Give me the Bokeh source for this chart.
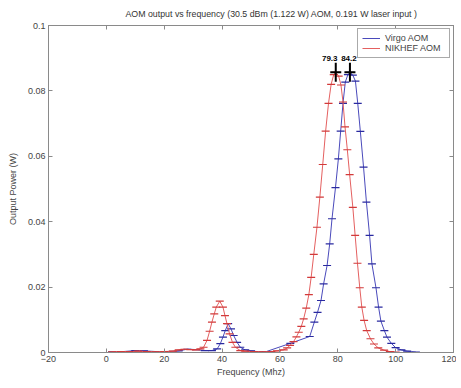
import math
from bokeh.plotting import figure
from bokeh.models import (LinearAxis, FixedTicker, CustomJSTickFormatter, Legend,
                          LegendItem, ColumnDataSource, Range1d)
from bokeh.embed import file_html
from bokeh.resources import INLINE
from bokeh.core.properties import value

# ---- data ----
nikhef_freq = [2, 5, 8, 11, 14, 17, 20, 23, 25, 27,
               29, 31, 32.5, 33.6, 34.8, 35.7, 36.5, 37.3, 38.0, 39.2,
               40.3, 41.0, 41.7, 42.6, 43.6, 44.6, 46.3, 48, 51, 54,
               57, 59, 61.3, 62.5, 63.5, 64.7, 65.7, 66.5, 67.4, 68.2,
               69.1, 70.0, 70.8, 71.7, 72.8, 73.8, 74.8, 75.8, 76.8, 77.7,
               78.6, 79.3, 80.3, 81.1, 81.8, 82.5, 83.3, 84.1, 85.2, 86.0,
               86.8, 87.6, 88.3, 89.1, 90.0, 91.3, 92.5, 94, 96, 98, 100]
nikhef_power = [0.0002, 0.0003, 0.0003, 0.0004, 0.0003, 0.0002, 0.0003, 0.0004, 0.0008, 0.0010,
                0.0009, 0.0008, 0.0011, 0.0016, 0.0037, 0.0065, 0.0093, 0.0118, 0.0139, 0.0157,
                0.0139, 0.0113, 0.0088, 0.0057, 0.0031, 0.0016, 0.0006, 0.0004, 0.0003, 0.0002,
                0.0003, 0.0005, 0.0008, 0.0014, 0.0022, 0.0033, 0.0048, 0.0062, 0.0080, 0.0103,
                0.0136, 0.0177, 0.0230, 0.0300, 0.0383, 0.0475, 0.0575, 0.0677, 0.0762, 0.0820,
                0.0850, 0.0857, 0.0845, 0.0818, 0.0766, 0.0690, 0.0620, 0.0544, 0.0444, 0.0358,
                0.0273, 0.0198, 0.0139, 0.0098, 0.0067, 0.0042, 0.0026, 0.0014, 0.0007, 0.0003, 0.0001]

virgo_freq = [2, 6, 10, 13, 17, 21, 25, 28, 31, 34,
              36.5, 38.3, 39.4, 40.3, 41.1, 42.1, 43.1, 44.0, 45.2, 46.3,
              48, 50, 53, 55, 63.6, 70.3, 71.9, 73.0, 74.2, 75.1,
              76.3, 77.2, 78.0, 79.2, 80.2, 81.0, 81.8, 82.6, 83.5, 84.3,
              85.2, 86.1, 86.9, 87.8, 88.9, 89.9, 91.0, 91.8, 93.2, 94.1,
              94.9, 96.1, 97.0, 98.5, 100, 102, 104, 107]
virgo_power = [0.0002, 0.0003, 0.0006, 0.0005, 0.0003, 0.0003, 0.0005, 0.0010, 0.0009, 0.0006,
               0.0006, 0.0011, 0.0027, 0.0047, 0.0067, 0.0088, 0.0072, 0.0052, 0.0031, 0.0016,
               0.0008, 0.0005, 0.0002, 0.0002, 0.0028, 0.0049, 0.0093, 0.0123, 0.0159, 0.0210,
               0.0266, 0.0332, 0.0409, 0.0504, 0.0592, 0.0677, 0.0762, 0.0827, 0.0850, 0.0857,
               0.0848, 0.0830, 0.0762, 0.0676, 0.0567, 0.0460, 0.0358, 0.0271, 0.0198, 0.0139,
               0.0096, 0.0067, 0.0047, 0.0028, 0.0015, 0.0008, 0.0004, 0.0001]

peak_freq = [79.3, 84.2]
peak_power = [0.0857, 0.0857]
peak_labels = ["79.3", "84.2"]

x_ticks = [-20, 0, 20, 40, 60, 80, 100, 120]
y_ticks = [0, 0.02, 0.04, 0.06, 0.08, 0.1]

title_text = "AOM output vs frequency (30.5 dBm (1.122 W) AOM, 0.191 W laser input )"

FONT = "Liberation Sans"
AXIS_COLOR = "#8a8a8a"
LABEL_COLOR = "#444444"
BLUE = "#4a4abb"
BLUE_M = "#2a2aa0"
RED = "#e46060"
RED_M = "#d23a3a"

p = figure(width=456, height=380, x_range=Range1d(-20, 120), y_range=Range1d(0, 0.1),
           output_backend="svg", toolbar_location=None,
           min_border_left=48, min_border_right=3, min_border_top=25, min_border_bottom=28)
p.background_fill_color = "white"
p.border_fill_color = "white"
p.outline_line_color = AXIS_COLOR
p.xgrid.visible = False
p.ygrid.visible = False

p.title.text = title_text
p.title.text_font = FONT
p.title.text_font_size = "8.8px"
p.title.text_font_style = "normal"
p.title.text_color = "#333333"
p.title.align = "left"
p.title.vertical_align = "top"
p.title.offset = 77
p.title.standoff = 10

fmt = CustomJSTickFormatter(code="return (Math.round(tick*100)/100).toString();")
blank_fmt = CustomJSTickFormatter(code="return '';")

def style_axis(ax, ticks, show_labels=True):
    ax.ticker = FixedTicker(ticks=ticks)
    ax.axis_line_color = AXIS_COLOR
    ax.major_tick_line_color = AXIS_COLOR
    ax.major_tick_in = 4
    ax.major_tick_out = 0
    ax.minor_tick_line_color = None
    ax.major_label_text_font = FONT
    ax.major_label_text_font_size = "9px"
    ax.major_label_text_color = LABEL_COLOR
    ax.axis_label_text_font = FONT
    ax.axis_label_text_font_size = "9px"
    ax.axis_label_text_font_style = "normal"
    ax.axis_label_text_color = LABEL_COLOR
    if not show_labels:
        ax.formatter = blank_fmt
        ax.major_label_standoff = 0

xa = p.xaxis[0]
ya = p.yaxis[0]
style_axis(xa, x_ticks)
style_axis(ya, y_ticks)
xa.axis_label = "Frequency (Mhz)"
ya.axis_label = "Output Power (W)"
xa.major_label_standoff = 3
xa.axis_label_standoff = 2
ya.major_label_standoff = 3
ya.axis_label_standoff = 7
ya.formatter = fmt

top = LinearAxis()
style_axis(top, x_ticks, show_labels=False)
p.add_layout(top, "above")
right = LinearAxis()
style_axis(right, y_ticks, show_labels=False)
p.add_layout(right, "right")

virgo_src = ColumnDataSource(dict(f=virgo_freq, pw=virgo_power))
nikhef_src = ColumnDataSource(dict(f=nikhef_freq, pw=nikhef_power))

bl = p.line("f", "pw", source=virgo_src, line_color=BLUE, line_width=1)
p.scatter("f", "pw", source=virgo_src, marker="dash", size=8, line_color=BLUE_M, line_width=1.2)
rl = p.line("f", "pw", source=nikhef_src, line_color=RED, line_width=1)
p.scatter("f", "pw", source=nikhef_src, marker="dash", size=8, line_color=RED_M, line_width=1.2)

peak_src = ColumnDataSource(dict(f=peak_freq, pw=peak_power, t=peak_labels,
                                 dx=[-6, -1]))
p.scatter("f", "pw", source=peak_src, marker="dash", size=11, line_color="black", line_width=2)
p.scatter("f", "pw", source=peak_src, marker="dash", angle=math.pi / 2, size=19,
          line_color="black", line_width=2)
p.text("f", "pw", text="t", source=peak_src, text_font=value(FONT), text_font_size="8px",
       text_font_style="bold", text_align="center", text_baseline="bottom",
       x_offset="dx", y_offset=-11, text_color="black")

legend = Legend(items=[LegendItem(label="Virgo AOM", renderers=[bl]),
                       LegendItem(label="NIKHEF AOM", renderers=[rl])],
                location="top_right")
legend.margin = 3
legend.padding = 4
legend.spacing = 0
legend.label_text_font = FONT
legend.label_text_font_size = "9px"
legend.label_text_color = LABEL_COLOR
legend.label_height = 10
legend.glyph_height = 10
legend.glyph_width = 18
legend.label_width = 60
legend.label_standoff = 5
legend.border_line_color = "#555555"
legend.border_line_width = 1
legend.background_fill_color = "white"
legend.background_fill_alpha = 1
p.add_layout(legend)

open("out.html", "w").write(file_html(p, INLINE))
